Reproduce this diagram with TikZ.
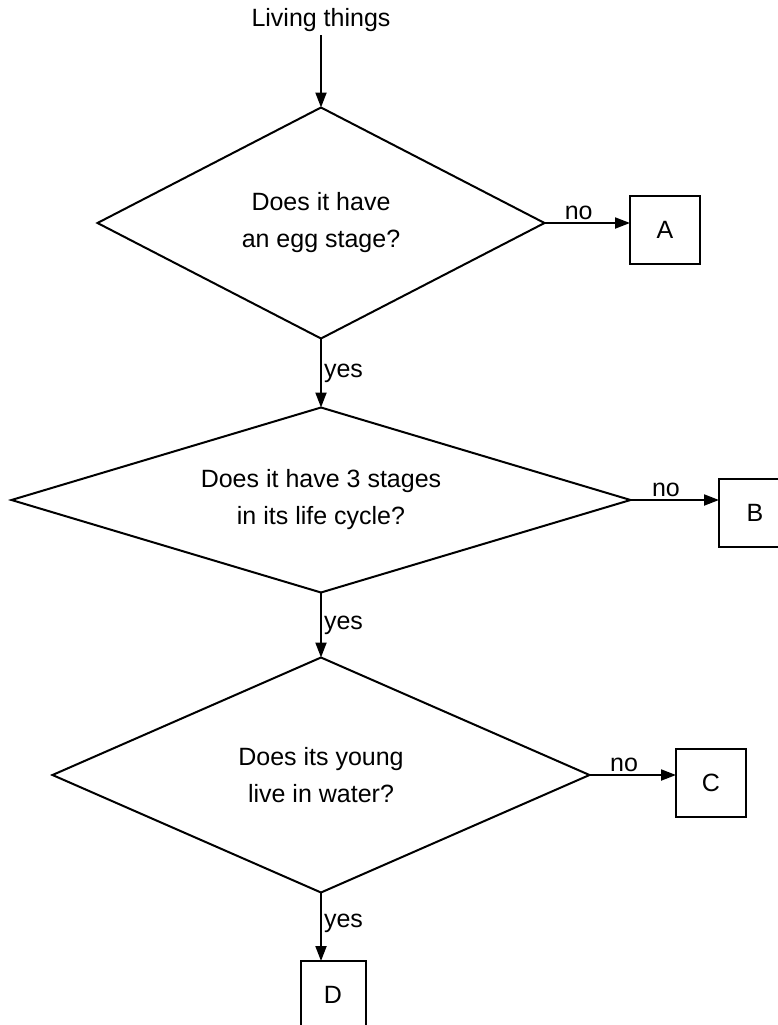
\documentclass[tikz,border=0pt]{standalone}
\usepackage{fontspec}
\setmainfont{Liberation Sans}
\usetikzlibrary{shapes.geometric,arrows.meta}

\begin{document}
\begin{tikzpicture}[x=1pt,y=-1pt,
  font=\fontsize{25}{37}\selectfont,
  question/.style={draw,diamond,line width=2pt,outer sep=0pt,inner sep=0pt,align=center},
  answer/.style={draw,rectangle,line width=2pt,minimum width=70pt,minimum height=68pt,outer sep=0pt},
  flow/.style={line width=2pt,-{Triangle[length=15pt,width=11pt]}},
  lab/.style={inner sep=2pt}]
  \useasboundingbox (0,0) rectangle (777,1025);
  \node (top) at (321,20) {Living things};
  \node[question,aspect=1.94,minimum width=447pt,minimum height=231pt] (q1) at (321,223) {Does it have\\an egg stage?};
  \node[question,aspect=3.35,minimum width=619pt,minimum height=185pt] (q2) at (321,500) {Does it have 3 stages\\in its life cycle?};
  \node[question,aspect=2.29,minimum width=537pt,minimum height=235pt] (q3) at (321,775) {Does its young\\live in water?};
  \node[answer] (a) at (665,230) {A};
  \node[answer,minimum width=72pt] (b) at (755,513) {B};
  \node[answer] (c) at (711,783) {C};
  \node[answer,minimum width=65pt] (d) at (333,995) {D};
  \draw[flow] (top.south) to (q1.north);
  \draw[flow] (q1.east) to node[lab,above,pos=0.4] {no} (q1.east -| a.west);
  \draw[flow] (q1.south) to node[lab,right] {yes} (q2.north);
  \draw[flow] (q2.east) to node[lab,above,pos=0.4] {no} (q2.east -| b.west);
  \draw[flow] (q2.south) to node[lab,right] {yes} (q3.north);
  \draw[flow] (q3.east) to node[lab,above,pos=0.4] {no} (q3.east -| c.west);
  \draw[flow] (q3.south) to node[lab,right,pos=0.45] {yes} (q3.south |- d.north);
\end{tikzpicture}
\end{document}
